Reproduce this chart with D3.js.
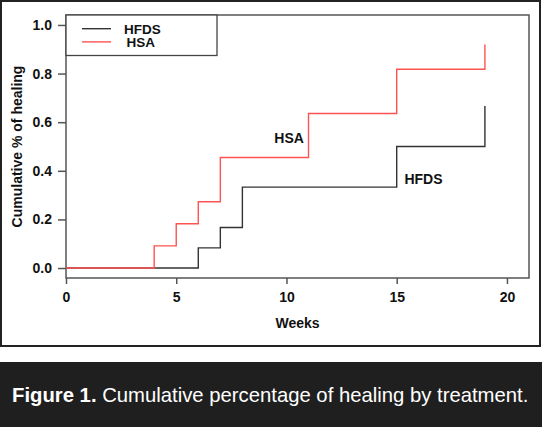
<!DOCTYPE html>
<html>
<head>
<meta charset="utf-8">
<script src="https://cdn.jsdelivr.net/npm/d3@7"></script>
<style>
  body { margin: 0; background: #fff; }
  text { font-family: "Liberation Sans", Arial, Helvetica, sans-serif; }
</style>
</head>
<body>
<div id="chart-area"></div>
<script>
// step data
var hfdsWeeks = [0, 6, 7, 8, 15, 19];
var hfdsHealed = [0, 0.083, 0.167, 0.333, 0.5, 0.667];
var hsaWeeks = [0, 4, 5, 6, 7, 11, 15, 19];
var hsaHealed = [0, 0.091, 0.182, 0.273, 0.455, 0.636, 0.818, 0.92];
var xTicks = [0, 5, 10, 15, 20];
var yTicks = [0, 0.2, 0.4, 0.6, 0.8, 1.0];
var seriesNames = ["HFDS", "HSA"];
var seriesColors = ["#333333", "#ff5252"];

var margin = {top: 15, right: 13, bottom: 149, left: 66};
var width = 542 - margin.left - margin.right;
var height = 427 - margin.top - margin.bottom;

var svg = d3.select("#chart-area")
  .append("svg")
    .attr("width", 542)
    .attr("height", 427);

// outer frame and caption band
svg.append("rect")
  .attr("x", 1).attr("y", 1)
  .attr("width", 539).attr("height", 345)
  .attr("fill", "none")
  .attr("stroke", "#222")
  .attr("stroke-width", 2);

svg.append("rect")
  .attr("x", 0).attr("y", 362)
  .attr("width", 542).attr("height", 65)
  .attr("fill", "#201f20");

var caption = svg.append("text")
  .attr("x", 12)
  .attr("y", 401.5)
  .attr("font-size", "20.3px")
  .style("fill", "#fff");
caption.append("tspan").attr("font-weight", "bold").text("Figure 1.");
caption.append("tspan").text(" Cumulative percentage of healing by treatment.");

var g = svg.append("g")
  .attr("transform", "translate(" + margin.left + ", " + margin.top + ")");

var x = d3.scaleLinear().domain([0, 21]).range([0, width]);
var y = d3.scaleLinear().domain([-0.041, 1.041]).range([height, 0]);

var xAxisCall = d3.axisBottom(x)
  .tickValues(xTicks)
  .tickSize(6)
  .tickPadding(8)
  .tickFormat(d3.format("d"));

var yAxisCall = d3.axisLeft(y)
  .tickValues(yTicks)
  .tickSize(8)
  .tickPadding(6)
  .tickFormat(d3.format(".1f"));

var xAxisGroup = g.append("g")
  .attr("transform", "translate(0, " + height + ")")
  .call(xAxisCall);

var yAxisGroup = g.append("g").call(yAxisCall);

[xAxisGroup, yAxisGroup].forEach(function(ax) {
  ax.select(".domain").remove();
  ax.selectAll(".tick line").attr("stroke", "#555").attr("stroke-width", 1.5);
  ax.selectAll(".tick text")
    .attr("font-size", "14px")
    .attr("font-weight", "bold")
    .style("font-family", "'Liberation Sans', Arial, sans-serif")
    .attr("fill", "#111");
});

// box
g.append("rect")
  .attr("width", width)
  .attr("height", height)
  .attr("fill", "none")
  .attr("stroke", "#555")
  .attr("stroke-width", 1.5);

g.append("text")
  .attr("x", width / 2)
  .attr("y", height + 50)
  .attr("font-size", "14px")
  .attr("font-weight", "bold")
  .attr("text-anchor", "middle")
  .style("fill", "#111")
  .text("Weeks");

g.append("text")
  .attr("x", -height / 2)
  .attr("y", -44)
  .attr("font-size", "14px")
  .attr("font-weight", "bold")
  .attr("text-anchor", "middle")
  .attr("transform", "rotate(-90)")
  .style("fill", "#111")
  .text("Cumulative % of healing");

var line = d3.line()
  .x(function(d) { return x(d[0]); })
  .y(function(d) { return y(d[1]); })
  .curve(d3.curveStepAfter);

var series = [d3.zip(hfdsWeeks, hfdsHealed), d3.zip(hsaWeeks, hsaHealed)];

series.forEach(function(s, i) {
  g.append("path")
    .datum(s)
    .attr("fill", "none")
    .attr("stroke", seriesColors[i])
    .attr("stroke-width", 1.4)
    .attr("d", line);
});

// in-plot labels
g.append("text")
  .attr("x", x(9.45))
  .attr("y", y(0.515))
  .attr("font-size", "14px")
  .attr("font-weight", "bold")
  .style("fill", "#111")
  .text("HSA");

g.append("text")
  .attr("x", x(15.35))
  .attr("y", y(0.345))
  .attr("font-size", "14px")
  .attr("font-weight", "bold")
  .style("fill", "#111")
  .text("HFDS");

// legend
g.append("rect")
  .attr("x", 0).attr("y", 0)
  .attr("width", 151).attr("height", 40.5)
  .attr("fill", "#fff")
  .attr("stroke", "#444")
  .attr("stroke-width", 1.3);

seriesNames.forEach(function(name, i) {
  var row = g.append("g")
    .attr("transform", "translate(0, " + (13.7 + i * 13.2) + ")");
  row.append("line")
    .attr("x1", 16).attr("x2", 45)
    .attr("stroke", seriesColors[i])
    .attr("stroke-width", 1.4);
  row.append("text")
    .attr("x", 58 + i * 2.5)
    .attr("y", 5)
    .attr("font-size", "13.5px")
    .attr("font-weight", "bold")
    .style("fill", "#111")
    .text(name);
});
</script>
</body>
</html>
